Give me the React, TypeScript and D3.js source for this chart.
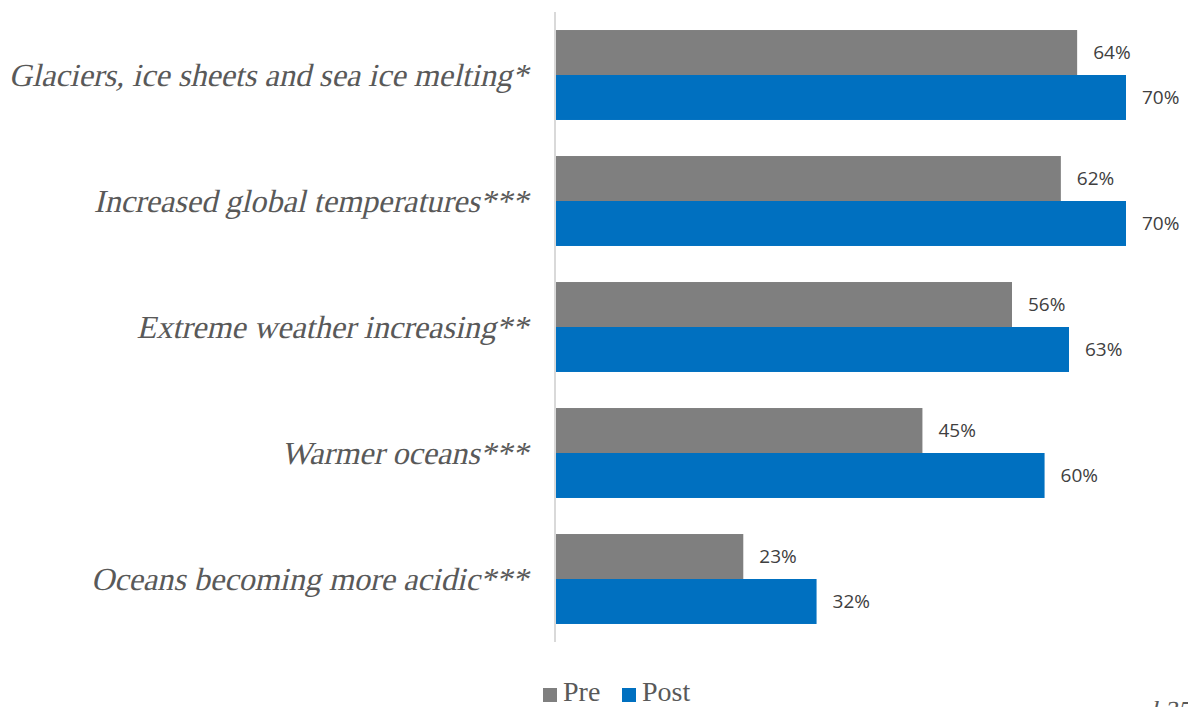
import React from "react";
import * as d3 from "d3";

const categories = [
  "Glaciers, ice sheets and sea ice melting*",
  "Increased global temperatures***",
  "Extreme weather increasing**",
  "Warmer oceans***",
  "Oceans becoming more acidic***",
];
const seriesNames = ["Pre", "Post"];
const preValues = [64, 62, 56, 45, 23];
const postValues = [70, 70, 63, 60, 32];
const colors = ["#7f7f7f", "#0070c0"];

const W = 1188;
const H = 707;
const SERIF = "'Liberation Serif', 'Times New Roman', serif";

export default function App() {
  const x = d3.scaleLinear().domain([0, 70]).range([556, 1126]);
  const y = d3.scaleBand<string>().domain(categories).range([12, 642]).paddingInner(0.286).paddingOuter(0.143);
  const inner = d3.scaleBand<string>().domain(seriesNames).range([0, y.bandwidth()]);
  const series = [preValues, postValues];

  return (
    <svg width={W} height={H} style={{ position: "absolute", left: 0, top: 0, background: "#fff" }}>
      {categories.map((c, i) => {
        const baseline = (y(c) as number) + y.bandwidth() / 2 + 11;
        return (
          <g key={c}>
            {series.map((vals, s) => {
              const yy = (y(c) as number) + (inner(seriesNames[s]) as number);
              return (
                <g key={s}>
                  <rect x={x(0)} y={yy} width={x(vals[i]) - x(0)} height={inner.bandwidth()} fill={colors[s]} />
                  <text
                    x={x(vals[i]) + 16}
                    y={yy + inner.bandwidth() / 2}
                    dy="0.35em"
                    fontFamily="'Open Sans', 'Liberation Sans', sans-serif"
                    fontSize={19}
                    fill="#404040"
                  >
                    {vals[i]}%
                  </text>
                </g>
              );
            })}
            <g transform={`translate(528,${baseline}) skewX(-13)`}>
              <text x={0} y={0} textAnchor="end" style={{ fontFamily: SERIF, fontSize: 32.2 }} fill="#595959">
                {c}
              </text>
            </g>
          </g>
        );
      })}
      <line x1={555} x2={555} y1={12} y2={642} stroke="#d9d9d9" strokeWidth={2} />
      {seriesNames.map((n, s) => {
        const lx = s === 0 ? 543 : 622;
        return (
          <g key={n}>
            <rect x={lx} y={688} width={14} height={14} fill={colors[s]} />
            <text x={lx + 20} y={701} style={{ fontFamily: SERIF, fontSize: 28 }} fill="#595959">
              {n}
            </text>
          </g>
        );
      })}
      <g transform="translate(1150,719) skewX(-13)">
        <text x={0} y={0} style={{ fontFamily: SERIF, fontSize: 26 }} fill="#595959">
          l 35
        </text>
      </g>
    </svg>
  );
}
